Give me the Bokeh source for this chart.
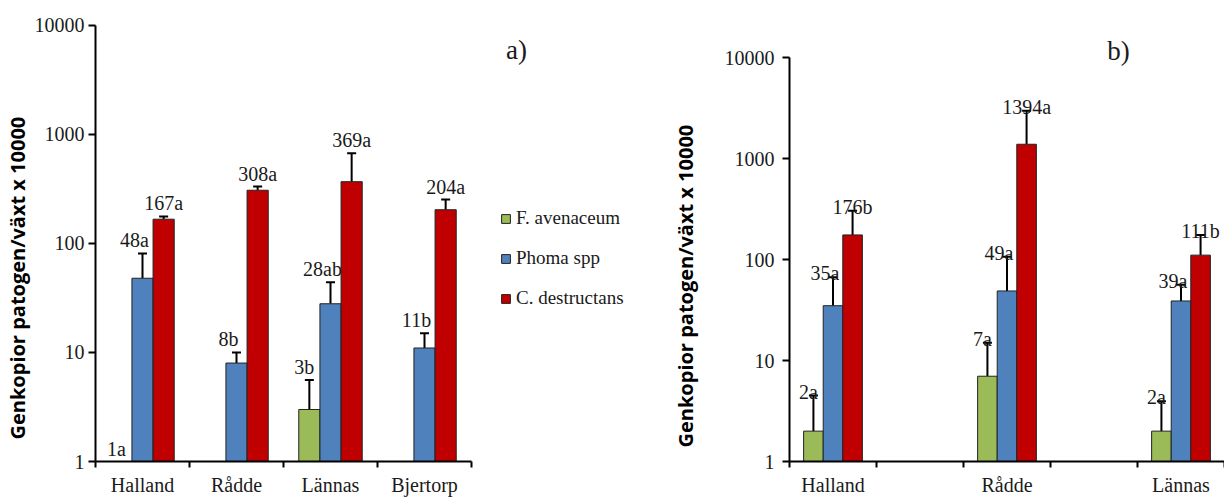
import math
from bokeh.plotting import figure
from bokeh.layouts import row
from bokeh.models import (Range1d, FixedTicker, NumeralTickFormatter, ColumnDataSource,
                          Whisker, TeeHead, Label, Legend, LegendItem, Title)
from bokeh.embed import file_html
from bokeh.resources import INLINE
from bokeh.core.properties import value

# ---------------- data ----------------
series_names = ["F. avenaceum", "Phoma spp", "C. destructans"]
series_colors = ["#9BBB59", "#4F81BD", "#C00000"]
y_ticks = [1, 10, 100, 1000, 10000]
y_title = "Genkopior patogen/växt x 10000"

# panel a)
sites_a = ["Halland", "Rådde", "Lännas", "Bjertorp"]
fav_a = [1, None, 3, None]
fav_a_err = [None, None, 5.6, None]
fav_a_lbl = ["1a", None, "3b", None]
phoma_a = [48, 8, 28, 11]
phoma_a_err = [81, 10, 44, 15]
phoma_a_lbl = ["48a", "8b", "28ab", "11b"]
cdes_a = [167, 308, 369, 204]
cdes_a_err = [177, 333, 674, 253]
cdes_a_lbl = ["167a", "308a", "369a", "204a"]

# panel b)
sites_b = ["Halland", "Rådde", "Lännas"]
fav_b = [2, 7, 2]
fav_b_err = [4.5, 15, 3.95]
fav_b_lbl = ["2a", "7a", "2a"]
phoma_b = [35, 49, 39]
phoma_b_err = [67, 107, 56.5]
phoma_b_lbl = ["35a", "49a", "39a"]
cdes_b = [176, 1394, 111]
cdes_b_err = [305, 3000, 176]
cdes_b_lbl = ["176b", "1394a", "111b"]

BW = 0.225
LABEL_DX = [-5, -8, 0]
SERIF = "Liberation Serif"
SANS = "Open Sans"
INK = "#1a1a1a"
H = 498
TOP = 20
BOTTOM = 36
W_LEFT = 640


def make_fig(width, x_end, y_end, mb_left, lab_standoff):
    p = figure(width=width, height=H, title=None,
               x_range=Range1d(0, x_end), y_range=Range1d(1, y_end), y_axis_type="log",
               output_backend="svg", toolbar_location=None,
               min_border_left=mb_left, min_border_right=0,
               min_border_top=TOP, min_border_bottom=BOTTOM)
    p.outline_line_color = None
    p.xgrid.visible = False
    p.ygrid.visible = False
    p.background_fill_color = "white"
    p.border_fill_color = "white"
    ya = p.yaxis[0]
    ya.ticker = FixedTicker(ticks=y_ticks, minor_ticks=[])
    ya.formatter = NumeralTickFormatter(format="0")
    ya.bounds = (y_ticks[0], y_ticks[-1])
    ya.axis_line_width = 2
    ya.axis_line_color = "black"
    ya.major_tick_line_width = 2
    ya.major_tick_line_color = "black"
    ya.major_tick_out = 7
    ya.major_tick_in = 0
    ya.minor_tick_line_color = None
    ya.major_label_standoff = lab_standoff
    ya.major_label_text_font = SERIF
    ya.major_label_text_font_size = "20px"
    ya.major_label_text_color = INK
    return p


def set_xaxis(p, slots, names, n_slots):
    xa = p.xaxis[0]
    centers = [s + 0.5 for s in slots]
    xa.ticker = FixedTicker(ticks=centers, minor_ticks=list(range(n_slots + 1)))
    xa.major_label_overrides = {c: n for c, n in zip(centers, names)}
    xa.bounds = (0, n_slots)
    xa.axis_line_width = 2
    xa.axis_line_color = "black"
    xa.major_tick_line_color = None
    xa.major_tick_out = 0
    xa.major_tick_in = 0
    xa.minor_tick_line_color = "black"
    xa.minor_tick_line_width = 2
    xa.minor_tick_out = 6
    xa.minor_tick_in = 0
    xa.major_label_standoff = 6
    xa.major_label_text_font = SERIF
    xa.major_label_text_font_size = "20px"
    xa.major_label_text_color = INK


def add_series(p, slots, vals, errs, lbls, j, gap):
    xs, tops, lys, ls = [], [], [], []
    ex, eb, et = [], [], []
    for s, v, e, l in zip(slots, vals, errs, lbls):
        if v is None:
            continue
        x = s + 0.5 + (j - 1) * BW
        xs.append(x)
        tops.append(v)
        ls.append(l)
        lys.append(e if e is not None else v)
        if e is not None:
            ex.append(x); eb.append(v); et.append(e)
    src = ColumnDataSource(dict(x=xs, top=tops, ly=lys, lbl=ls))
    r = p.vbar(x="x", top="top", bottom=1, width=BW, source=src,
               fill_color=series_colors[j], line_color="#222222", line_width=1)
    if ex:
        esrc = ColumnDataSource(dict(x=ex, lo=eb, hi=et))
        w = Whisker(source=esrc, base="x", lower="lo", upper="hi", dimension="height",
                    line_color="black", line_width=2, lower_head=None,
                    upper_head=TeeHead(size=9, line_width=2, line_color="black"))
        p.add_layout(w)
    p.text(x="x", y="ly", text="lbl", source=src, text_font=value(SERIF),
           text_font_size="20px", text_align="center", text_baseline="alphabetic",
           text_color=INK, y_offset=-gap, x_offset=LABEL_DX[j])
    return r


def add_ytitle(p, offset, standoff):
    p.add_layout(Title(text=y_title, align="left", offset=offset, standoff=standoff,
                       vertical_align="middle", text_font=SANS, text_font_style="bold",
                       text_font_size="20px", text_color="black"), "left")


# ---------------- panel a ----------------
# frame: x from 95 (94 px per site), y: 1 at 462, 10000 at 25
n_a = len(sites_a)
slots_a = list(range(n_a))
x_end_a = (W_LEFT - 95) / 94
y_end_a = 10 ** (4 + (25 - TOP) / ((H - BOTTOM - 25) / 4))
p1 = make_fig(W_LEFT, x_end_a, y_end_a, 95, 4)
set_xaxis(p1, slots_a, sites_a, n_a)
ra = []
for j, (v, e, l) in enumerate([(fav_a, fav_a_err, fav_a_lbl),
                               (phoma_a, phoma_a_err, phoma_a_lbl),
                               (cdes_a, cdes_a_err, cdes_a_lbl)]):
    ra.append(add_series(p1, slots_a, v, e, l, j, 13))

legend = Legend(items=[LegendItem(label=n, renderers=[r]) for n, r in zip(series_names, ra)],
                location=(405, 152), orientation="vertical",
                glyph_width=11, glyph_height=11, label_height=20, spacing=18,
                label_standoff=5, padding=0, margin=0,
                border_line_color=None, background_fill_alpha=0,
                label_text_font=SERIF, label_text_font_size="19px", label_text_color=INK)
p1.add_layout(legend)
add_ytitle(p1, 22, 0)
p1.add_layout(Label(x=421, y=412, x_units="screen", y_units="screen", text="a)",
                    text_align="center", text_baseline="middle",
                    text_font=SERIF, text_font_size="27px", text_color=INK))

# ---------------- panel b ----------------
# frame: x 789..1224 (87 px per slot), y: 1 at 462, 10000 at 57.5
n_slots_b = 5
slots_b = [2 * i for i in range(len(sites_b))]
y_end_b = 10 ** (4 + (57.5 - TOP) / ((H - BOTTOM - 57.5) / 4))
p2 = make_fig(1224 - W_LEFT, n_slots_b, y_end_b, 789 - W_LEFT, 8)
set_xaxis(p2, slots_b, sites_b, n_slots_b)
for j, (v, e, l) in enumerate([(fav_b, fav_b_err, fav_b_lbl),
                               (phoma_b, phoma_b_err, phoma_b_lbl),
                               (cdes_b, cdes_b_err, cdes_b_lbl)]):
    add_series(p2, slots_b, v, e, l, j, 4)
add_ytitle(p2, 14, 43)
p2.add_layout(Label(x=329, y=411, x_units="screen", y_units="screen", text="b)",
                    text_align="center", text_baseline="middle",
                    text_font=SERIF, text_font_size="27px", text_color=INK))

layout = row(p1, p2)
open("out.html", "w").write(file_html(layout, INLINE))
